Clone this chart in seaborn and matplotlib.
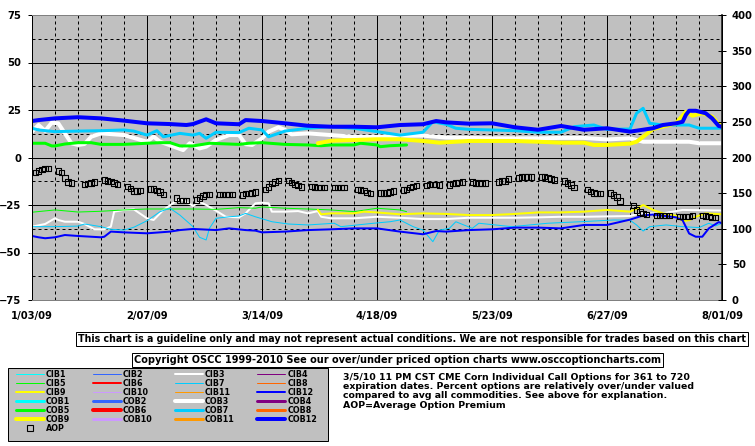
import matplotlib
matplotlib.use("Agg")
import matplotlib.pyplot as plt
from matplotlib.lines import Line2D
from matplotlib.patches import Rectangle
import pandas as pd
import seaborn as sns

# ---- data (day offsets from 1/03/09) ----
START = pd.Timestamp("2009-01-03")
x_tick_days = [0, 35, 70, 105, 140, 175, 210]
x_tick_labels = ["1/03/09", "2/07/09", "3/14/09", "4/18/09", "5/23/09", "6/27/09", "8/01/09"]

cob12_days = [0, 2, 7, 14, 21, 28, 35, 42, 47, 49, 53, 56, 63, 65, 70, 77, 84, 91, 98, 105, 112, 119, 123,
              126, 133, 140, 147, 154, 161, 168, 175, 182, 189, 192, 196, 198, 199, 200, 202, 205, 207, 209, 210]
cob12 = [19.2, 19.7, 20.6, 21.2, 20.6, 19.4, 18.0, 17.6, 17.1, 17.6, 20.1, 18.0, 17.5, 19.7, 19.2, 18.0, 16.7,
         16.2, 16.2, 15.9, 17.1, 17.5, 19.2, 18.5, 17.8, 18.0, 15.9, 14.6, 16.6, 14.6, 15.4, 13.6, 15.4, 17.1,
         18.0, 18.8, 22.4, 24.6, 24.6, 23.3, 20.6, 16.6, 16.2]

cob9_days = [87, 91, 98, 105, 112, 119, 124, 133, 140, 147, 154, 161, 168, 171, 175, 182, 184, 186, 189, 196,
             199, 201, 204, 207, 209, 210]
cob9 = [7.5, 8.8, 9.2, 9.6, 9.6, 8.7, 7.8, 8.7, 8.7, 8.7, 8.3, 7.8, 7.8, 6.6, 6.6, 7.3, 8.3, 10.9, 15.0, 18.0,
        24.1, 22.0, 23.3, 21.5, 17.5, 16.6]

cob7_days = [0, 2, 7, 14, 21, 28, 31, 35, 38, 40, 45, 49, 51, 53, 56, 63, 66, 70, 72, 77, 84, 91, 98, 105, 112,
             119, 122, 126, 129, 133, 140, 147, 154, 161, 165, 168, 171, 175, 182, 184, 186, 188, 192, 200, 203, 210]
cob7 = [15.4, 14.5, 13.6, 13.9, 14.1, 14.5, 13.9, 11.8, 14.1, 10.9, 12.7, 11.8, 12.7, 10.1, 13.3, 13.1, 15.4,
        14.5, 10.9, 13.9, 15.4, 16.2, 15.4, 13.6, 11.8, 13.3, 18.8, 17.5, 15.4, 14.8, 14.5, 14.1, 13.3, 13.3,
        16.2, 16.7, 17.1, 14.8, 15.0, 23.3, 25.9, 18.0, 17.1, 17.1, 15.4, 15.4]

cob3_days = [0, 2, 4, 6, 8, 10, 12, 14, 16, 18, 21, 28, 35, 37, 39, 46, 48, 51, 53, 56, 60, 63, 65, 67, 70, 72,
             75, 77, 79, 84, 91, 98, 105, 112, 119, 126, 133, 140, 147, 154, 161, 168, 175, 182, 186, 200, 203, 210]
cob3 = [13.6, 17.1, 14.0, 18.3, 18.0, 12.7, 7.5, 6.6, 7.1, 10.9, 12.7, 11.8, 8.3, 11.0, 8.3, 3.9, 7.5, 4.8,
        5.7, 9.2, 11.8, 11.8, 7.0, 6.6, 10.1, 13.6, 15.9, 14.5, 12.2, 12.7, 11.8, 10.9, 10.9, 11.5, 11.5, 10.5,
        10.3, 10.1, 10.1, 10.1, 10.3, 10.3, 9.5, 10.1, 8.3, 8.3, 7.5, 7.5]

cob5_days = [0, 4, 6, 7, 10, 14, 18, 21, 28, 35, 39, 42, 45, 49, 54, 63, 66, 70, 77, 84, 88, 91, 98, 100, 105,
             106, 109, 114]
cob5 = [7.5, 7.5, 6.1, 6.1, 7.1, 7.8, 7.8, 6.9, 6.9, 7.5, 7.8, 7.8, 6.1, 6.1, 7.5, 6.9, 7.5, 7.8, 6.9, 6.6,
        6.2, 6.6, 6.6, 7.5, 6.6, 5.7, 6.2, 6.6]

cib12_days = [0, 2, 4, 7, 10, 14, 21, 22, 24, 28, 35, 42, 45, 49, 56, 60, 65, 68, 70, 77, 84, 91, 98, 105, 112,
              119, 123, 126, 133, 140, 147, 154, 161, 168, 175, 182, 186, 189, 196, 198, 200, 202, 204, 206,
              209, 210]
cib12 = [-41.3, -42.0, -42.5, -42.0, -40.8, -41.3, -42.0, -41.7, -39.0, -39.4, -39.9, -39.0, -38.2, -37.6,
         -38.2, -37.3, -38.2, -38.5, -39.4, -39.0, -38.2, -37.8, -37.3, -37.3, -39.0, -40.4, -38.7, -39.0,
         -38.2, -37.8, -36.9, -36.9, -37.3, -35.5, -35.5, -32.7, -30.5, -30.0, -31.5, -33.0, -40.0, -41.7,
         -41.7, -37.3, -34.0, -34.6]

cib5_days = [0, 7, 14, 21, 28, 35, 42, 49, 56, 63, 68, 70, 77, 84, 91, 98, 105, 112, 114]
cib5 = [-28.8, -27.6, -28.7, -28.3, -27.6, -27.1, -27.1, -27.1, -27.3, -26.4, -26.7, -26.0, -26.7, -27.1,
        -27.6, -28.5, -26.7, -27.6, -28.5]

cib3_days = [0, 4, 7, 8, 10, 14, 16, 19, 22, 24, 25, 28, 31, 35, 37, 40, 45, 49, 51, 53, 56, 59, 63, 65, 66,
             68, 70, 72, 73, 77, 81, 84, 87, 88, 91, 98, 105, 112, 119, 126, 133, 140, 147, 154, 161, 168, 175,
             182, 185, 192, 198, 210]
cib3 = [-36.4, -35.0, -32.0, -32.9, -33.8, -33.8, -35.0, -37.8, -37.8, -36.4, -28.5, -27.6, -27.3, -32.0,
        -32.9, -27.6, -21.5, -25.5, -23.3, -25.0, -28.0, -31.2, -31.5, -29.4, -27.6, -24.1, -23.8, -24.1,
        -28.5, -28.5, -28.2, -29.4, -28.2, -31.2, -32.0, -32.0, -31.2, -31.7, -32.4, -32.4, -31.7, -31.7,
        -31.7, -31.5, -31.2, -31.2, -31.0, -30.8, -29.4, -29.4, -27.6, -27.9]

cib9_days = [87, 88, 91, 98, 101, 105, 112, 119, 126, 133, 140, 147, 154, 161, 168, 175, 182, 184, 186, 189,
             192, 196, 198, 200, 202, 205, 210]
cib9 = [-27.6, -29.9, -29.4, -29.4, -28.5, -28.9, -29.9, -29.4, -29.7, -30.3, -30.3, -29.7, -28.9, -28.9,
        -28.5, -27.6, -28.5, -27.0, -25.0, -27.6, -29.4, -30.6, -33.5, -33.0, -31.2, -29.4, -29.9]

cib7_days = [0, 7, 14, 16, 21, 24, 28, 31, 35, 39, 42, 45, 49, 51, 53, 54, 56, 60, 63, 65, 68, 73, 78, 84, 92,
             94, 99, 104, 109, 112, 116, 119, 122, 124, 127, 129, 134, 136, 141, 146, 157, 167, 177, 182, 184,
             186, 188, 193, 198, 203, 206, 208, 210]
cib7 = [-36.4, -36.4, -36.1, -35.0, -36.4, -37.8, -38.2, -36.7, -33.3, -28.5, -26.7, -30.3, -36.4, -42.0,
        -43.4, -37.3, -32.0, -31.2, -30.8, -29.4, -31.2, -33.8, -35.0, -35.5, -34.6, -36.4, -35.5, -34.6,
        -33.8, -32.9, -36.4, -38.2, -44.3, -38.2, -37.3, -33.8, -37.3, -34.6, -35.5, -36.4, -34.6, -33.8,
        -32.9, -33.0, -35.5, -38.7, -36.4, -35.5, -36.4, -36.9, -34.6, -36.0, -34.6]

# average option premium (right axis), one square per trading day
aop_days = [1, 2, 3, 4, 5, 8, 9, 10, 11, 12, 16, 17, 18, 19, 22, 23, 24, 25, 26, 29, 30, 31, 32, 33,
            36, 37, 38, 39, 40, 44, 45, 46, 47, 50, 51, 52, 53, 54, 57, 58, 59, 60, 61, 64, 65, 66, 67, 68,
            71, 72, 73, 74, 75, 78, 79, 80, 81, 82, 85, 86, 87, 88, 89, 92, 93, 94, 95, 99, 100, 101, 102, 103,
            106, 107, 108, 109, 110, 113, 114, 115, 116, 117, 120, 121, 122, 123, 124, 127, 128, 129, 130, 131,
            134, 135, 136, 137, 138, 142, 143, 144, 145, 148, 149, 150, 151, 152, 155, 156, 157, 158, 159,
            162, 163, 164, 165, 169, 170, 171, 172, 173, 176, 177, 178, 179, 183, 184, 185, 186, 187,
            190, 191, 192, 193, 194, 197, 198, 199, 200, 201, 204, 205, 206, 207, 208]
aop = [178.7, 181.0, 183.4, 184.3, 184.3, 181.0, 178.7, 171.2, 165.6, 164.6, 161.8, 163.8, 164.6, 165.6,
       168.4, 167.4, 166.6, 164.6, 161.8, 159.0, 156.2, 152.6, 152.6, 153.4, 155.4, 155.4, 153.4, 151.6, 147.8,
       143.2, 139.4, 139.4, 139.4, 140.4, 143.2, 146.0, 147.8, 147.8, 147.8, 147.8, 147.8, 147.8, 147.8,
       147.4, 149.2, 149.5, 150.2, 151.2, 154.8, 158.6, 163.2, 166.0, 168.0, 168.0, 165.2, 162.4, 160.4, 158.6,
       159.6, 158.6, 157.6, 157.6, 157.6, 157.6, 157.6, 157.6, 157.6, 155.1, 154.2, 153.4, 150.6, 149.7,
       150.2, 150.2, 150.2, 151.2, 153.0, 154.0, 154.8, 157.6, 159.6, 160.4, 160.4, 162.4, 162.4, 162.4, 161.4,
       161.4, 163.2, 164.2, 165.2, 166.0, 166.0, 164.2, 164.2, 163.2, 164.2, 166.0, 167.0, 167.0, 169.8,
       171.6, 172.6, 172.6, 172.6, 172.6, 172.6, 173.6, 171.6, 169.8, 168.8, 167.0, 164.2, 161.4, 157.6,
       154.8, 152.0, 150.2, 149.2, 149.2, 150.2, 147.4, 144.6, 139.0, 132.4, 126.7, 123.5, 121.1, 120.3,
       118.6, 118.6, 118.6, 118.6, 118.6, 116.9, 116.9, 116.9, 116.9, 118.9, 118.9, 117.9, 116.9, 116.0, 116.0]

disclaimer = ("This chart is a guideline only and may not represent actual conditions. "
              "We are not responsible for trades based on this chart")
copyright_note = "Copyright OSCC 1999-2010 See our over/under priced option charts www.osccoptioncharts.com"
desc_lines = ["3/5/10 11 PM CST CME Corn Individual Call Options for 361 to 720",
              "expiration dates. Percent options are relatively over/under valued",
              "compared to avg all commodities. See above for explanation.",
              "AOP=Average Option Premium"]

# ---- styles ----
base_colors = ["#00FFFF", "#3366FF", "#FFFFFF", "#800080", "#00FF00", "#FF0000",
               "#00CCFF", "#FF6600", "#FFFF00", "#CC99FF", "#FF9900", "#0000FF"]
PX = 0.72  # one pixel in points


def line_width(name):
    heavy = name[3:] in ("3", "6", "9", "12")
    if name.startswith("CIB"):
        return 2 * PX if heavy else 1 * PX
    return 4 * PX if heavy else 3 * PX


def to_dates(days):
    return START + pd.to_timedelta(days, unit="D")


W, H = 755, 446
sns.set_theme(style="white")
plt.rcParams["font.family"] = ["DejaVu Sans"]
plt.rcParams["font.weight"] = "bold"
plt.rcParams["text.color"] = "black"

fig = plt.figure(figsize=(W / 100, H / 100), dpi=100)
ax = fig.add_axes([32 / W, 1 - 300 / H, 690 / W, 285 / H])
ax.set_facecolor("#C0C0C0")
ax2 = ax.twinx()

plotted = [("CIB3", cib3_days, cib3), ("CIB5", cib5_days, cib5), ("CIB7", cib7_days, cib7),
           ("CIB9", cib9_days, cib9), ("CIB12", cib12_days, cib12),
           ("COB3", cob3_days, cob3), ("COB5", cob5_days, cob5), ("COB7", cob7_days, cob7),
           ("COB9", cob9_days, cob9), ("COB12", cob12_days, cob12)]
for name, days, vals in plotted:
    df = pd.DataFrame({"date": to_dates(days), "value": vals})
    sns.lineplot(data=df, x="date", y="value", ax=ax, color=base_colors[int(name[3:]) - 1],
                 linewidth=line_width(name), estimator=None, sort=False, legend=False)

aop_df = pd.DataFrame({"date": to_dates(aop_days), "value": aop})
sns.scatterplot(data=aop_df, x="date", y="value", ax=ax2, marker="s", s=16, color="black",
                linewidth=0.8, legend=False)
ax2.collections[-1].set_facecolor("none")
ax2.collections[-1].set_edgecolor("black")

# axes, grid
ax.set_xlim(to_dates([0])[0], to_dates([210])[0])
ax.set_ylim(-75, 75)
ax2.set_ylim(0, 400)
ax.set_xticks(to_dates(x_tick_days))
ax.set_xticklabels(x_tick_labels)
ax.set_xticks(to_dates([d for d in range(0, 211, 7) if d % 35]), minor=True)
ax.set_yticks(range(-75, 76, 25))
ax.set_yticks([-62.5, -37.5, -12.5, 12.5, 37.5, 62.5], minor=True)
ax2.set_yticks(range(0, 401, 50))
ax.set_axisbelow(True)
ax.grid(which="major", color="black", linewidth=PX, linestyle="-")
ax.grid(which="minor", color="black", linewidth=PX, linestyle=(0, (3, 3)))
ax.set_xlabel("")
ax.set_ylabel("")
ax2.set_xlabel("")
ax2.set_ylabel("")

ax.tick_params(axis="x", which="both", length=0, pad=8, labelsize=7.2, labelcolor="black")
ax.tick_params(axis="y", which="major", left=True, direction="out", length=3, width=PX,
               pad=5, labelsize=7.2, colors="black")
ax.tick_params(axis="y", which="minor", length=0)
ax2.tick_params(axis="y", right=True, direction="inout", length=6, width=PX, pad=4,
                labelsize=7.2, colors="black")

for side in ["top", "bottom"]:
    ax.spines[side].set_color("#808080")
    ax.spines[side].set_linewidth(PX)
    ax2.spines[side].set_visible(False)
ax.spines["left"].set_color("black")
ax.spines["left"].set_linewidth(PX)
ax2.spines["left"].set_visible(False)
ax2.spines["right"].set_color("black")
ax2.spines["right"].set_linewidth(PX)

# notes
box = dict(boxstyle="square,pad=0.25", facecolor="white", edgecolor="black", linewidth=PX)
fig.text(78 / W, 1 - 339 / H, disclaimer, fontsize=6.85, ha="left", va="center", bbox=box)
fig.text(134 / W, 1 - 360 / H, copyright_note, fontsize=7.05, ha="left", va="center", bbox=box)
for i, line in enumerate(desc_lines):
    fig.text(343 / W, 1 - (377 + 9.5 * i) / H, line, fontsize=6.75, ha="left", va="center")

# legend
fig.add_artist(Rectangle((8 / W, 1 - 441 / H), 320 / W, 73 / H, transform=fig.transFigure,
                         facecolor="#C0C0C0", edgecolor="black", linewidth=PX, zorder=1))
names = {}
for prefix in ["CIB", "COB"]:
    for k in range(1, 13):
        name = f"{prefix}{k}"
        names[name] = Line2D([0], [0], color=base_colors[k - 1], linewidth=line_width(name))
order = [["CIB1", "CIB5", "CIB9", "COB1", "COB5", "COB9", "AOP"],
         ["CIB2", "CIB6", "CIB10", "COB2", "COB6", "COB10"],
         ["CIB3", "CIB7", "CIB11", "COB3", "COB7", "COB11"],
         ["CIB4", "CIB8", "CIB12", "COB4", "COB8", "COB12"]]
names["AOP"] = Line2D([0], [0], marker="s", linestyle="none", markersize=4,
                      markerfacecolor="none", markeredgecolor="black", markeredgewidth=0.8)
labels = [n for col in order for n in col]
fig.legend([names[n] for n in labels], labels, ncol=4, loc="upper left",
           bbox_to_anchor=(16 / W, 1 - 370 / H), frameon=False, borderpad=0, borderaxespad=0,
           prop={"family": "DejaVu Sans", "weight": "bold", "size": 5.8}, labelcolor="black",
           handlelength=3.47, handletextpad=0.25, columnspacing=2.8, labelspacing=0.0)

fig.savefig("out.png", dpi=100)
